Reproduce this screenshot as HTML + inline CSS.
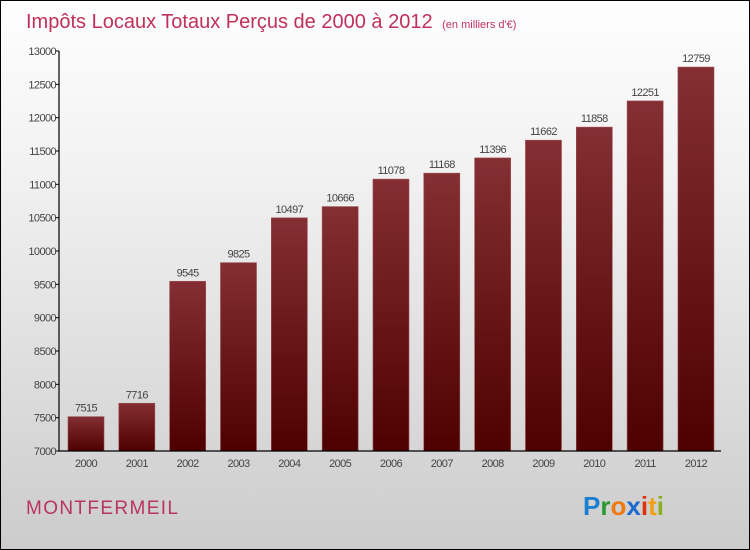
<!DOCTYPE html>
<html><head><meta charset="utf-8"><style>
body{margin:0}
#c{width:748px;height:548px;border:1px solid #000;background:linear-gradient(#fefefe,#f2f2f2 30%,#cccccc);position:relative;font-family:"Liberation Sans","DejaVu Sans",sans-serif;overflow:hidden}
</style></head><body>
<div id="c">
<svg width="748" height="548">
<defs><linearGradient id="g" x1="0" y1="0" x2="0" y2="1"><stop offset="0" stop-color="#842f33"/><stop offset="1" stop-color="#4e0000"/></linearGradient></defs>
<text x="25" y="27" font-size="20" fill="#c0305a">Impôts Locaux Totaux Perçus de 2000 à 2012 <tspan font-size="11" dx="4">(en milliers d'€)</tspan></text>
<text x="25" y="513" font-size="19" fill="#b8355e" textLength="152">MONTFERMEIL</text>
<text x="582" y="514" font-size="26" font-weight="bold"><tspan fill="#1a7fd0">P</tspan><tspan fill="#2a9a30">r</tspan><tspan fill="#f07a10">o</tspan><tspan fill="#1a6ad0">x</tspan><tspan fill="#e03010">i</tspan><tspan fill="#f0a010">t</tspan><tspan fill="#88b020">i</tspan></text>
<g id="plot"></g>
</svg></div>
<script>
const years=["2000","2001","2002","2003","2004","2005","2006","2007","2008","2009","2010","2011","2012"];
const values=[7515,7716,9545,9825,10497,10666,11078,11168,11396,11662,11858,12251,12759];
const ticks=[7000,7500,8000,8500,9000,9500,10000,10500,11000,11500,12000,12500,13000];
const NS="http://www.w3.org/2000/svg";
const g=document.getElementById('plot');
const y=v=>450-(v-7000)/6000*400;
const x=i=>85+i*50.83;
function mk(t,a){const e=document.createElementNS(NS,t);for(const k in a)e.setAttribute(k,a[k]);g.appendChild(e);return e;}
ticks.forEach(t=>{
 const l=mk('line',{x1:54,x2:58,y1:y(t),y2:y(t),stroke:'#000'});
 
 
 const tx=mk('text',{x:55,y:y(t)+4,'font-size':11,'text-anchor':'end',fill:'#444','letter-spacing':'-0.6'});
 tx.textContent=t;
 
 
});
values.forEach((v,i)=>{
 const r=mk('rect',{x:x(i)-18,y:y(v),width:36,height:450-y(v),fill:'url(#g)',stroke:'#9a4a4e','stroke-width':0.6});
 
 
 const lt=mk('text',{x:x(i),y:y(v)-5,'font-size':11,'text-anchor':'middle',fill:'#444','letter-spacing':'-0.6'});
 lt.textContent=v;
 
 
 const xt=mk('text',{x:x(i),y:466,'font-size':11,'text-anchor':'middle',fill:'#444','letter-spacing':'-0.6'});
 xt.textContent=years[i];
 
 
});
const ax=mk('path',{d:'M58 50 V450 H720',stroke:'#000',fill:'none','stroke-width':1.2});


</script>
</body></html>
